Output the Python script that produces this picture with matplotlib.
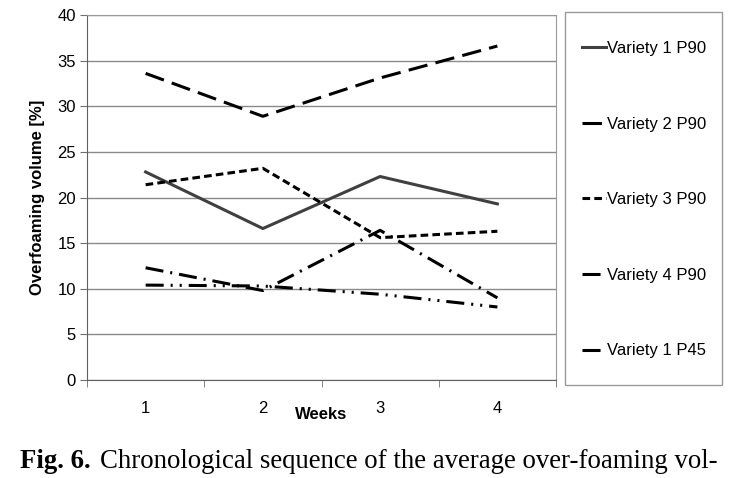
import matplotlib
matplotlib.use('Agg')
import matplotlib.pyplot as plt
from matplotlib.patches import Rectangle

plt.rcParams['font.family'] = ['Liberation Sans', 'DejaVu Sans']
plt.rcParams['lines.scale_dashes'] = False

# data
weeks = [1, 2, 3, 4]
week_labels = ['1', '2', '3', '4']
v1_p90 = [22.8, 16.6, 22.3, 19.3]
v2_p90 = [33.6, 28.9, 33.1, 36.6]
v3_p90 = [21.4, 23.2, 15.6, 16.3]
v4_p90 = [12.3, 9.8, 16.4, 9.0]
v1_p45 = [10.4, 10.3, 9.4, 8.0]
series_names = ['Variety 1 P90', 'Variety 2 P90', 'Variety 3 P90', 'Variety 4 P90', 'Variety 1 P45']
y_ticks = [0, 5, 10, 15, 20, 25, 30, 35, 40]

fig = plt.figure(figsize=(7.31, 4.78), dpi=100)
ax = fig.add_axes([87/731, 1 - 380/478, (556 - 87)/731, (380 - 15)/478])

lw = 2.2
styles = [
    dict(color='#404040', linestyle='-'),
    dict(color='black', linestyle=(0, (14, 6))),
    dict(color='black', linestyle=(0, (5.5, 3))),
    dict(color='black', linestyle=(0, (13, 5, 1.5, 5))),
    dict(color='black', linestyle=(0, (13, 5, 1.5, 5, 1.5, 5))),
]
all_series = [v1_p90, v2_p90, v3_p90, v4_p90, v1_p45]
handles = []
for vals, st, name in zip(all_series, styles, series_names):
    h, = ax.plot(weeks, vals, lw=lw, label=name, **st)
    handles.append(h)

ax.set_xlim(0.5, 4.5)
ax.set_ylim(0, 40)
ax.set_yticks(y_ticks)
ax.set_xticks(weeks)
ax.set_xticklabels(week_labels)
ax.set_xticks([0.5, 1.5, 2.5, 3.5, 4.5], minor=True)
ax.tick_params(axis='x', which='major', length=0, pad=15, labelsize=12)
ax.tick_params(axis='x', which='minor', length=5, color='#707070')
ax.tick_params(axis='y', length=5, color='#707070', labelsize=12, pad=3)
ax.yaxis.grid(True, color='#8a8a8a', lw=1)
ax.set_axisbelow(True)
for side in ['top', 'right']:
    ax.spines[side].set_color('#9a9a9a')
for side in ['left', 'bottom']:
    ax.spines[side].set_color('#606060')

ax.set_ylabel('Overfoaming volume [%]', fontsize=12, fontweight='bold', labelpad=9)
ax.set_xlabel('Weeks', fontsize=12, fontweight='bold')
ax.xaxis.set_label_coords(0.5, -0.075)

# legend box drawn separately so it can be as tall as the reference
fig.patches.append(Rectangle((565/731, 1 - 385/478), (722 - 565)/731, (385 - 12)/478,
                             transform=fig.transFigure, fill=False, edgecolor='#9a9a9a', lw=1))
fig.legend(handles=handles, loc='upper left', bbox_to_anchor=(574/731, 1 - 33/478),
           frameon=False, fontsize=12, handlelength=1.4, handletextpad=0.1,
           labelspacing=3.63, borderpad=0)

fig.text(20/731, 1 - 461/478, 'Fig. 6.', fontsize=19.3, va='center', ha='left',
         family='Liberation Serif', fontweight='bold')
fig.text(100/731, 1 - 461/478, 'Chronological sequence of the average over-foaming vol-',
         fontsize=19.3, va='center', ha='left', family='Liberation Serif')

fig.savefig('out.png', dpi=100)
